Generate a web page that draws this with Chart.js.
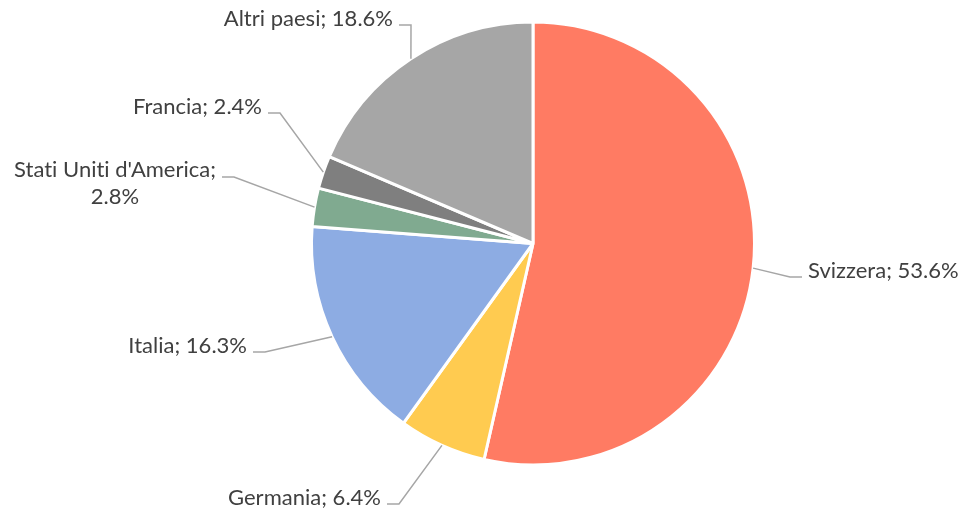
<!DOCTYPE html>
<html>
<head>
<meta charset="utf-8">
<script src="https://cdn.jsdelivr.net/npm/chart.js@4"></script>
<style>
    html, body { margin: 0; padding: 0; background: #fff; }
    #wrap { width: 963px; height: 514px; position: relative; }
</style>
</head>
<body>
<div id="wrap"><canvas id="pie-chart"></canvas></div>
<script>
const countries = ["Svizzera", "Germania", "Italia", "Stati Uniti d'America", "Francia", "Altri paesi"];
const shares = [53.6, 6.4, 16.3, 2.8, 2.4, 18.6];
const colors = ["#FF7B63", "#FFCB50", "#8DACE3", "#80AA90", "#7F7F7F", "#A6A6A6"];

// label placement: text anchor (x, y of first line centre), alignment, and line breaks
const labelLayout = [
    { x: 808, y: 271, align: "left", lines: null },
    { x: 381, y: 498, align: "right", lines: null },
    { x: 247, y: 346, align: "right", lines: null },
    { x: 216, y: 170, align: "right", lines: ["Stati Uniti d'America;", "2.8%"] },
    { x: 262, y: 107, align: "right", lines: null },
    { x: 393, y: 19, align: "right", lines: null }
];

const canvas = document.querySelector("#pie-chart");

function labelText(i) {
    return countries[i] + "; " + shares[i].toFixed(1) + "%";
}

const leaderLabels = {
    id: "leaderLabels",
    afterDatasetsDraw(chart) {
        const ctx = chart.ctx;
        const arcs = chart.getDatasetMeta(0).data;
        ctx.save();
        ctx.font = "22px Lato, 'Open Sans', sans-serif";
        ctx.letterSpacing = "0.01px"; // stops the "ti" ligature
        ctx.textBaseline = "middle";
        for (let i = 0; i < arcs.length; i++) {
            const arc = arcs[i];
            const p = arc.getProps(["x", "y", "startAngle", "endAngle", "outerRadius"], true);
            const mid = (p.startAngle + p.endAngle) / 2;
            const ax = p.x + Math.cos(mid) * p.outerRadius;
            const ay = p.y + Math.sin(mid) * p.outerRadius;

            const lay = labelLayout[i];
            const lines = lay.lines || [labelText(i)];
            const firstW = ctx.measureText(lines[0]).width;
            const dir = lay.align == "left" ? -1 : 1;
            const hy = lay.y + 6 + (lines.length > 1 ? 1 : 0);
            const hx1 = lay.x + dir * 6;
            const hx2 = hx1 + dir * 12;

            ctx.strokeStyle = "#A6A6A6";
            ctx.lineWidth = 1.5;
            ctx.beginPath();
            ctx.moveTo(hx1, hy);
            ctx.lineTo(hx2, hy);
            ctx.lineTo(ax, ay);
            ctx.stroke();

            ctx.fillStyle = "#404040";
            for (let j = 0; j < lines.length; j++) {
                const w = ctx.measureText(lines[j]).width;
                let tx;
                if (lay.align == "left") tx = lay.x;
                else if (j == 0) tx = lay.x - w;
                else tx = lay.x - firstW / 2 - w / 2;
                ctx.textAlign = "left";
                ctx.fillText(lines[j], tx, lay.y + j * 27);
            }
        }
        ctx.restore();
    }
};

new Chart(canvas, {
    type: "pie",
    data: {
        labels: countries,
        datasets: [{
            data: shares,
            backgroundColor: colors,
            borderColor: "#FFFFFF",
            borderWidth: 3
        }]
    },
    options: {
        responsive: true,
        maintainAspectRatio: false,
        animation: false,
        layout: {
            padding: { left: 310, right: 207, top: 20, bottom: 47 }
        },
        plugins: {
            legend: { display: false },
            tooltip: { enabled: false }
        }
    },
    plugins: [leaderLabels]
});
</script>
</body>
</html>
